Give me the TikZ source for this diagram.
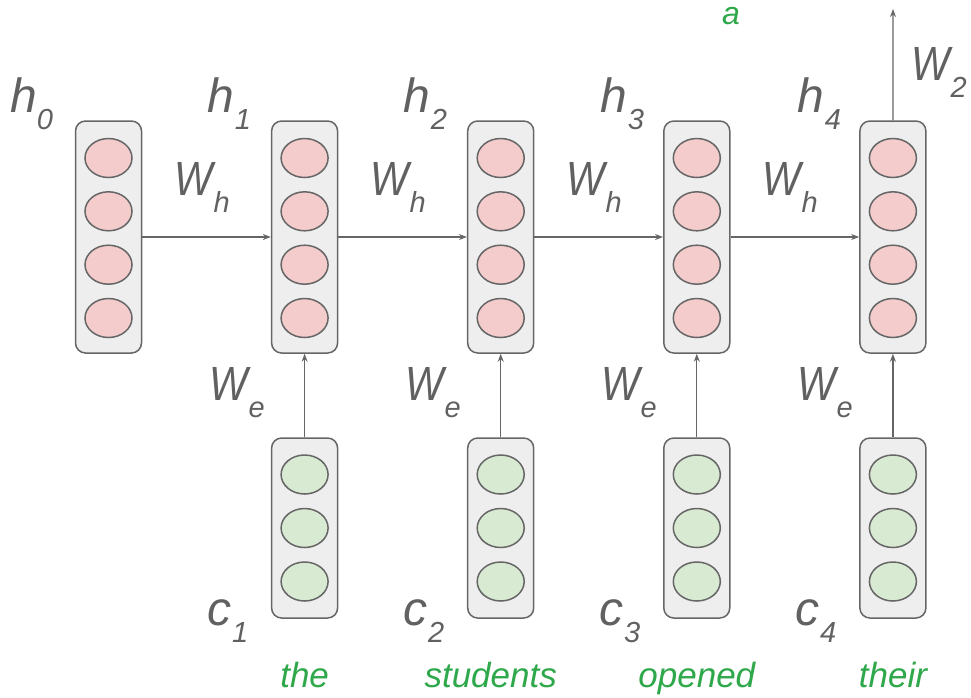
\documentclass[tikz,border=0pt]{standalone}
\usepackage{fontspec}
\setmainfont{Liberation Sans}
\usetikzlibrary{shapes.geometric,arrows.meta}
\definecolor{txtgray}{HTML}{616161}
\definecolor{linegray}{HTML}{666666}
\definecolor{boxfill}{HTML}{EEEEEE}
\definecolor{pinkfill}{HTML}{F4CCCC}
\definecolor{greenfill}{HTML}{D9EAD3}
\definecolor{wordgreen}{HTML}{2EA84A}
\newcommand\mylbl[3][1pt]{{\fontsize{48}{48}\selectfont\itshape #2}\kern#1\raisebox{-17pt}{\fontsize{29}{29}\selectfont\itshape #3}}
\newcommand\myW{\scalebox{0.85}[1]{W}}
\tikzset{
  vecbox/.style={draw=linegray, fill=boxfill, line width=1.5pt, rounded corners=10pt, minimum width=66pt, inner sep=0pt},
  hbox/.style={vecbox, minimum height=232pt},
  cbox/.style={vecbox, minimum height=180pt},
  unit/.style={ellipse, draw=linegray, line width=1.5pt, minimum width=47pt, minimum height=39pt, inner sep=0pt},
  hunit/.style={unit, fill=pinkfill},
  cunit/.style={unit, fill=greenfill},
  arr/.style={draw=linegray, line width=1.3pt, -{Stealth[length=8pt,width=6pt]}},
  lab/.style={anchor=base west, inner sep=0pt, text=txtgray},
  word/.style={anchor=base, inner sep=0pt, text=wordgreen, font=\fontsize{35}{35}\selectfont\itshape}
}
\begin{document}
\begin{tikzpicture}[x=1pt,y=-1pt]
\useasboundingbox (0,0) rectangle (971,697);
% hidden state boxes
\foreach \i in {0,...,4} {
  \pgfmathsetmacro\xx{108.5+196.1*\i}
  \node[hbox] (h\i) at (\xx,237) {};
  \foreach \k/\yy in {a/158,b/211.3,c/264.7,d/318} {
    \node[hunit] (h\i\k) at (\xx,\yy) {};
  }
}
% input boxes
\foreach \i in {1,...,4} {
  \pgfmathsetmacro\xx{108.5+196.1*\i}
  \node[cbox] (c\i) at (\xx,528) {};
  \foreach \k/\yy in {a/474.5,b/528,c/581.5} {
    \node[cunit] (c\i\k) at (\xx,\yy) {};
  }
  \draw[arr] (c\i) -- (h\i);
}
% recurrent arrows
\foreach \i/\j in {0/1,1/2,2/3,3/4} {
  \draw[arr] (h\i) -- (h\j);
}
\coordinate (out) at (893,9);
\draw[arr] (h4) -- (out);
% labels h
\node[lab] (lh0) at (10,112) {\mylbl[0pt]{h}{0}};
\node[lab] (lh1) at (207,112) {\mylbl{h}{1}};
\node[lab] (lh2) at (403,112) {\mylbl{h}{2}};
\node[lab] (lh3) at (600,112) {\mylbl{h}{3}};
\node[lab] (lh4) at (797,112) {\mylbl{h}{4}};
% W_h
\node[lab] (wh1) at (174,195) {\mylbl{\myW}{h}};
\node[lab] (wh2) at (370,195) {\mylbl{\myW}{h}};
\node[lab] (wh3) at (566,195) {\mylbl{\myW}{h}};
\node[lab] (wh4) at (762,195) {\mylbl{\myW}{h}};
% W_e
\node[lab] (we1) at (209,400) {\mylbl{\myW}{e}};
\node[lab] (we2) at (405,400) {\mylbl{\myW}{e}};
\node[lab] (we3) at (601,400) {\mylbl{\myW}{e}};
\node[lab] (we4) at (797,400) {\mylbl{\myW}{e}};
% c labels
\node[lab] (lc1) at (207,625) {\mylbl{c}{1}};
\node[lab] (lc2) at (403,625) {\mylbl{c}{2}};
\node[lab] (lc3) at (599,625) {\mylbl{c}{3}};
\node[lab] (lc4) at (795,625) {\mylbl{c}{4}};
% W_2
\node[lab] (w2) at (911,80) {\mylbl{\myW}{2}};
% words
\node[word] (wd1) at (304.6,687) {the};
\node[word] (wd2) at (490.7,687) {students};
\node[word] (wd3) at (696.8,687) {opened};
\node[word] (wd4) at (892.9,687) {their};
\node[word, anchor=base west, font=\fontsize{32}{32}\selectfont\itshape] (wa) at (722,24) {a};
\end{tikzpicture}
\end{document}
